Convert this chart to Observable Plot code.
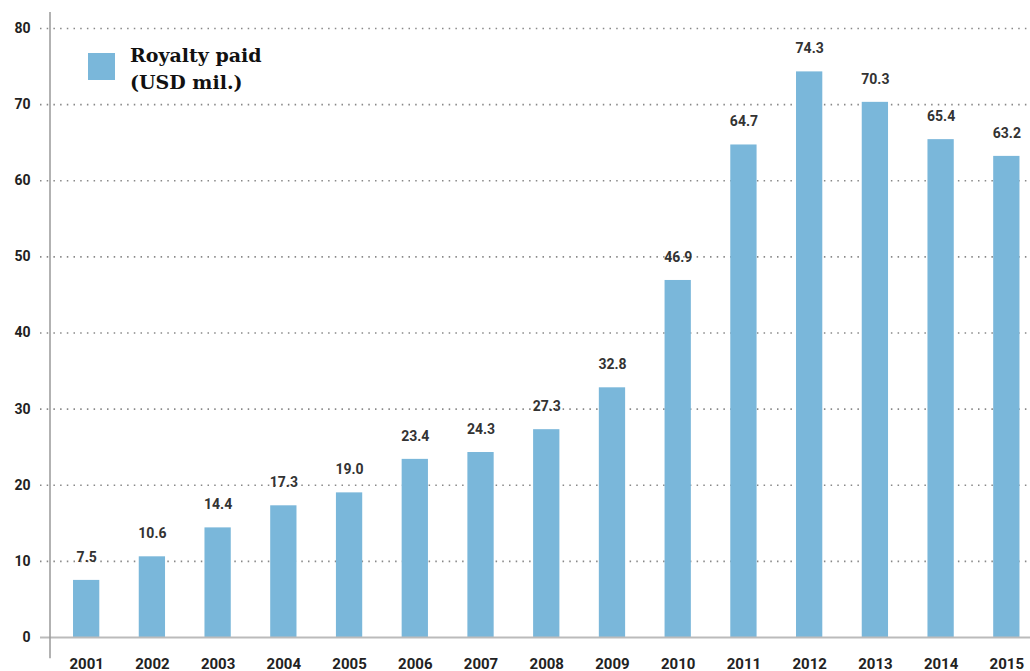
<!DOCTYPE html>
<html><head><meta charset="utf-8">
<script src="https://cdn.jsdelivr.net/npm/d3@7"></script>
<script src="https://cdn.jsdelivr.net/npm/@observablehq/plot@0.6"></script>
<style>
body{margin:0;background:#fff}
#c{position:relative;width:1030px;height:671px;overflow:hidden}
#legend{position:absolute;left:88px;top:42px;display:flex;align-items:flex-start}
#legend .sw{width:27px;height:27px;background:#7ab7da;margin-top:11px;margin-right:15px}
#legend .tx{font-family:"DejaVu Serif",serif;font-size:19px;font-weight:bold;line-height:27px;color:#111}
</style></head><body>
<div id="c"></div>
<script>
const years = ["2001","2002","2003","2004","2005","2006","2007","2008","2009","2010","2011","2012","2013","2014","2015"];
const royalty = [7.5,10.6,14.4,17.3,19.0,23.4,24.3,27.3,32.8,46.9,64.7,74.3,70.3,65.4,63.2];
const yTicks = [0,10,20,30,40,50,60,70,80];
const gridTicks = [10,20,30,40,50,60,70,80];
const legendLines = ["Royalty paid","(USD mil.)"];
const barColor = "#7ab7da";

const data = years.map((year,i)=>({year, value: royalty[i]}));

function axisLine(index, scales, values, dim) {
  const g = document.createElementNS("http://www.w3.org/2000/svg","line");
  g.setAttribute("x1", dim.marginLeft);
  g.setAttribute("x2", dim.marginLeft);
  g.setAttribute("y1", scales.y(82.1));
  g.setAttribute("y2", scales.y(-2.8));
  g.setAttribute("stroke", "#999");
  g.setAttribute("stroke-width", 1.5);
  return g;
}

const chart = Plot.plot({
  width: 1030,
  height: 671,
  marginLeft: 50,
  marginRight: 0,
  marginTop: 28,
  marginBottom: 34,
  style: {fontFamily: "Roboto, sans-serif", background: "#fff", overflow: "visible"},
  x: {domain: years, range: [53.3, 1039.2], round: false, paddingInner: 0.6, paddingOuter: 0.3, label: null},
  y: {domain: [0, 80], label: null},
  marks: [
    Plot.ruleY(gridTicks, {stroke: "#888", strokeWidth: 1.6, strokeDasharray: "1.5,5.2", insetLeft: -10}),
    Plot.barY(data, {x: "year", y: "value", fill: barColor}),
    Plot.ruleY([0], {stroke: "#bbb", strokeWidth: 2, insetLeft: -10}),
    axisLine,
    Plot.text(data, {x: "year", y: "value", text: d => d.value.toFixed(1), dy: -23, fontSize: 14, fontWeight: "bold", fill: "#333"}),
    Plot.axisY(yTicks, {tickSize: 0, tickPadding: 20, fontSize: 14, fontWeight: "bold", color: "#222", label: null}),
    Plot.axisX({tickSize: 0, tickPadding: 21, fontSize: 15, fontWeight: "bold", color: "#222", label: null})
  ]
});
const c = document.getElementById("c");
c.appendChild(chart);
const lg = document.createElement("div");
lg.id = "legend";
lg.innerHTML = `<div class="sw"></div><div class="tx">${legendLines.join("<br>")}</div>`;
c.appendChild(lg);
</script>
</body></html>
